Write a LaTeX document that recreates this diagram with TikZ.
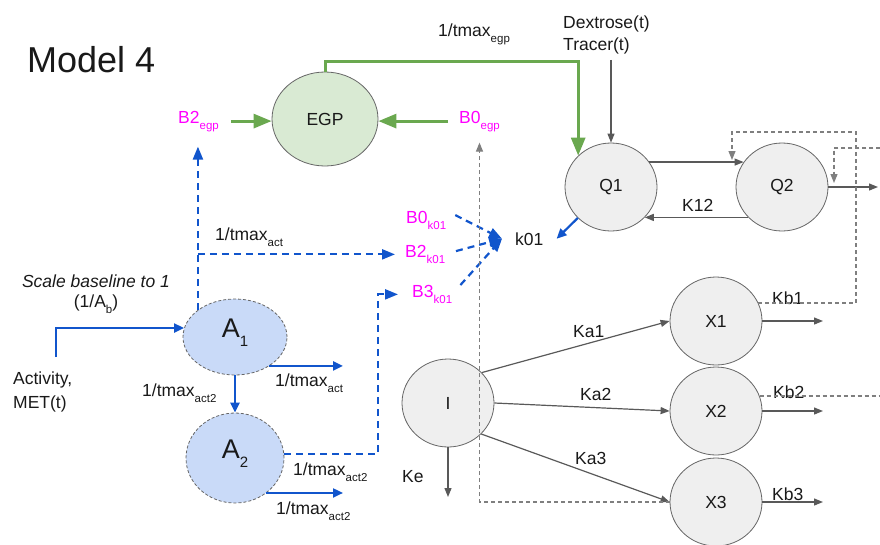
\documentclass[tikz,border=0pt]{standalone}
\usepackage{fontspec}
\setmainfont{Liberation Sans}
\usetikzlibrary{arrows.meta,shapes.geometric,calc}

\definecolor{gblue}{HTML}{1155CC}
\definecolor{afill}{HTML}{C9DAF8}
\definecolor{ggreen}{HTML}{6AA84F}
\definecolor{efill}{HTML}{D9EAD3}
\definecolor{cfill}{HTML}{EFEFEF}
\definecolor{cedge}{HTML}{666666}
\definecolor{gline}{HTML}{595959}
\definecolor{dline}{HTML}{7F7F7F}
\definecolor{gmag}{HTML}{FF00FF}

% lowered small text used for subscripts
\newcommand\dn[1]{\raisebox{-6pt}{\fontsize{11.5}{12}\selectfont #1}}
\newcommand\bigdn[1]{\raisebox{-9pt}{\fontsize{15}{16}\selectfont #1}}
\newcommand\labfont{\fontsize{17.5}{22}\selectfont}

\begin{document}
\begin{tikzpicture}[x=1pt,y=-1pt,
  every node/.style={inner sep=0pt, font=\labfont, text=black!90},
  txt/.style={anchor=base west},
  magtxt/.style={anchor=base west, text=gmag},
  comp/.style={ellipse, draw=cedge, fill=cfill, line width=0.8pt,
    minimum width=92pt, minimum height=88pt},
  egpc/.style={ellipse, draw=cedge, fill=efill, line width=0.8pt,
    minimum width=106pt, minimum height=94pt},
  actc/.style={ellipse, draw=cedge, dash pattern=on 3pt off 2pt, fill=afill,
    line width=0.8pt, font=\fontsize{27}{30}\selectfont,
    text height=14pt, text depth=14pt},
  flow/.style={draw=gline, line width=1.2pt, -{Triangle[length=9pt,width=7pt]}},
  gdash/.style={draw=dline, line width=1.1pt, dash pattern=on 4pt off 3pt,
    -{Triangle[length=9pt,width=7pt]}},
  bflow/.style={draw=gblue, line width=2.2pt, -{Triangle[length=10pt,width=9pt]}},
  bdash/.style={bflow, dash pattern=on 7pt off 5pt, -{Triangle[length=13pt,width=10pt]}},
  gflow/.style={draw=ggreen, line width=3pt, -{Triangle[length=18pt,width=14pt]}},
]
\useasboundingbox (0,0) rectangle (880,544);
\clip (0,0) rectangle (880,544);

% ---------- title ----------
\node[txt, font=\fontsize{36}{40}\selectfont] (title) at (27,72) {Model 4};

% ---------- compartments ----------
\node[egpc] (EGP) at (325,119) {EGP};
\node[comp] (Q1) at (611,187) {Q1};
\node[comp] (Q2) at (782,187) {Q2};
\node[comp] (I) at (448,403) {I};
\node[comp] (X1) at (716,321) {X1};
\node[comp] (X2) at (716,411) {X2};
\node[comp] (X3) at (716,502) {X3};
\node[actc, minimum width=104pt, minimum height=76pt] (A1) at (235,337) {A\bigdn{1}};
\node[actc, minimum width=98pt, minimum height=90pt] (A2) at (235,458) {A\bigdn{2}};

% ---------- parameter labels ----------
\node[magtxt] (B2egp) at (178,123) {B2\dn{egp}};
\node[magtxt] (B0egp) at (459,123) {B0\dn{egp}};
\node[magtxt] (B0k01) at (406,223) {B0\dn{k01}};
\node[magtxt] (B2k01) at (405,257) {B2\dn{k01}};
\node[magtxt] (B3k01) at (412,297) {B3\dn{k01}};
\node[anchor=base west, inner xsep=13pt] (k01) at (502,245) {k01};

\node[txt] (tegp) at (438,36) {1/tmax\dn{egp}};
\node[txt, align=left] (dex) at (563,50) {Dextrose(t)\\Tracer(t)};
\node[txt] (k12) at (682,211) {K12};
\node[txt] (ka1) at (573,337) {Ka1};
\node[txt] (ka2) at (580,400) {Ka2};
\node[txt] (ka3) at (575,464) {Ka3};
\node[txt] (ke) at (402,482) {Ke};
\node[txt] (kb1) at (772,304) {Kb1};
\node[txt] (kb2) at (773,398) {Kb2};
\node[txt] (kb3) at (772,500) {Kb3};

\node[txt] (tact) at (215,240) {1/tmax\dn{act}};
\node[txt] (tact12) at (142,396) {1/tmax\dn{act2}};
\node[txt] (tact1o) at (275,386) {1/tmax\dn{act}};
\node[txt] (tact2d) at (293,475) {1/tmax\dn{act2}};
\node[txt] (tact2o) at (276,514) {1/tmax\dn{act2}};

\node[anchor=base, align=center, font=\fontsize{17.5}{20}\selectfont] (scale) at (96,307)
  {\textit{Scale baseline to 1}\\(1/A\dn{b})};
\node[txt, align=left, font=\fontsize{17.5}{24}\selectfont] (act) at (13,408) {Activity,\\MET(t)};

% ---------- helper coordinates ----------
\coordinate (actout) at (56,357);
\coordinate (aout) at (343,0);
\coordinate (bend3) at (378,0);
\coordinate (gtop) at (0,61);
\coordinate (q2o) at (878,0);
\coordinate (xo) at (823,0);
\coordinate (keo) at (0,497);
\coordinate (fb1) at (856,132);
\coordinate (q2in) at (732,160);
\coordinate (fb2) at (892,148);
\coordinate (q2out) at (834,183);

% ---------- activity chain (blue) ----------
\draw[bflow] (actout) |- (A1.170);
\draw[bflow] (A1.south) -- (A2.north);
\draw[bflow] (A1.-40) -- (A1.-40 -| aout);
\draw[bflow] (A2.-48) -- (A2.-48 -| aout);
\draw[bdash, shorten >=15pt] (A1.north west) -- (A1.north west |- B2egp.south);
\draw[bdash, shorten >=10pt] (A1.north west |- B2k01.mid west) -- (B2k01.mid west);
\draw[bdash, shorten >=14pt] (A2.5) -| (bend3 |- B3k01.mid west) -- (B3k01.mid west);

% modifiers of k01
\draw[bdash, shorten <=10pt] (B0k01.north east) -- (k01.west);
\draw[bdash, shorten <=11pt] (B2k01.east) -- (k01.west);
\draw[bdash, shorten <=12pt] (B3k01.east) -- (k01.west);
\draw[bflow] (Q1.-137) -- (k01.east);

% ---------- endogenous production (green) ----------
\draw[gflow] (EGP.north) -- (EGP.north |- gtop) -| (Q1.north west);
\draw[gflow, shorten <=12pt] (B2egp.east) -- (B2egp.east -| EGP.west);
\draw[gflow, shorten <=11pt] (B0egp.west) -- (B0egp.west -| EGP.east);

% ---------- glucose and insulin flows (gray) ----------
\draw[flow, shorten <=6pt] (Q1.north |- dex.south) -- (Q1.north);
\draw[flow] (Q1.33) -- (Q2.147);
\draw[flow] (Q2.-138) -- (Q1.-42);
\draw[flow] (Q2.east) -- (Q2.east -| q2o);
\draw[flow] (I.42) -- (X1.west);
\draw[flow] (I.east) -- (X2.west);
\draw[flow] (I.-43) -- (X3.west);
\draw[flow] (I.south) -- (I.south |- keo);
\draw[flow] (X1.east) -- (X1.east -| xo);
\draw[flow] (X2.east) -- (X2.east -| xo);
\draw[flow] (X3.east) -- (X3.east -| xo);

% insulin action feedbacks (dashed)
\draw[gdash] (X1.23) -| (fb1) -| (q2in);
\draw[gdash] (X2.19) -| (fb2) -| (q2out);
\draw[gdash, shorten >=11pt] (X3.west) -| (B0egp.south);
\end{tikzpicture}
\end{document}
